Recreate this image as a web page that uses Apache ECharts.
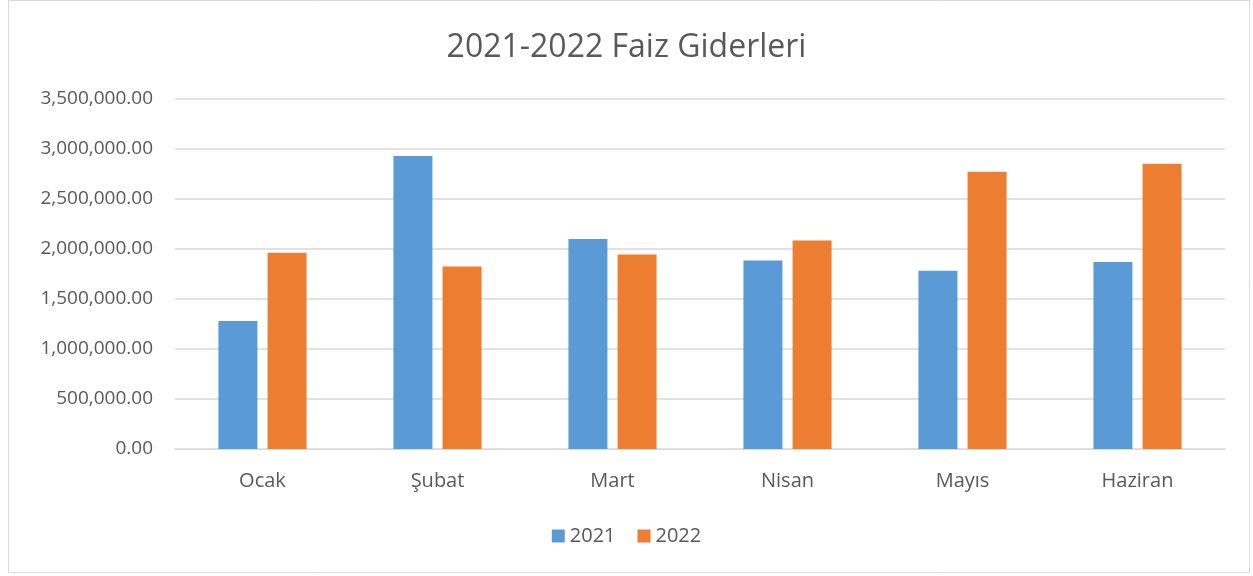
<!DOCTYPE html>
<html>
<head>
<meta charset="utf-8">
<script src="https://cdn.jsdelivr.net/npm/echarts@6/dist/echarts.min.js"></script>
<style>
  html, body { margin: 0; padding: 0; background: #fff; }
  #chart { width: 1253px; height: 576px; }
</style>
</head>
<body>
<div id="chart"></div>
<script>
  // data
  const months = ['Ocak', 'Şubat', 'Mart', 'Nisan', 'Mayıs', 'Haziran'];
  const values2021 = [1280000, 2930000, 2100000, 1886000, 1783000, 1870000];
  const values2022 = [1963000, 1826000, 1946000, 2086000, 2773000, 2853000];
  const seriesNames = ['2021', '2022'];

  const textColor = '#595959';
  const font = 'Open Sans';

  function fmt(v) {
    return v.toLocaleString('en-US', { minimumFractionDigits: 2, maximumFractionDigits: 2 });
  }

  const chart = echarts.init(document.getElementById('chart'));
  const option = {
    backgroundColor: '#fff',
    animation: false,
    graphic: [{
      type: 'rect',
      shape: { x: 8.5, y: 0.5, width: 1241, height: 572 },
      style: { fill: 'none', stroke: '#d9d9d9', lineWidth: 1 },
      silent: true
    }],
    title: {
      text: '2021-2022 Faiz Giderleri',
      left: 'center',
      top: 27,
      textStyle: { fontFamily: font, fontSize: 32, fontWeight: 'normal', color: textColor }
    },
    legend: {
      data: seriesNames,
      bottom: 25,
      left: 'center',
      itemWidth: 13,
      itemHeight: 13,
      itemGap: 22,
      icon: 'rect',
      textStyle: { fontFamily: font, fontSize: 20, color: textColor }
    },
    grid: { left: 175, right: 28, top: 99, bottom: 127 },
    xAxis: {
      type: 'category',
      data: months,
      axisLine: { lineStyle: { color: '#d9d9d9' } },
      axisTick: { show: false },
      axisLabel: { fontFamily: font, fontSize: 20, color: textColor, margin: 22 }
    },
    yAxis: {
      type: 'value',
      min: 0,
      max: 3500000,
      interval: 500000,
      axisLine: { show: false },
      axisTick: { show: false },
      splitLine: { lineStyle: { color: '#d9d9d9', width: 1.5 } },
      axisLabel: { fontFamily: font, fontSize: 19, color: textColor, margin: 22, formatter: fmt }
    },
    series: [
      {
        name: seriesNames[0],
        type: 'bar',
        data: values2021,
        barWidth: 39,
        barGap: '26%',
        itemStyle: { color: '#5B9BD5' }
      },
      {
        name: seriesNames[1],
        type: 'bar',
        data: values2022,
        barWidth: 39,
        itemStyle: { color: '#ED7D31' }
      }
    ]
  };
  chart.setOption(option);
</script>
</body>
</html>
